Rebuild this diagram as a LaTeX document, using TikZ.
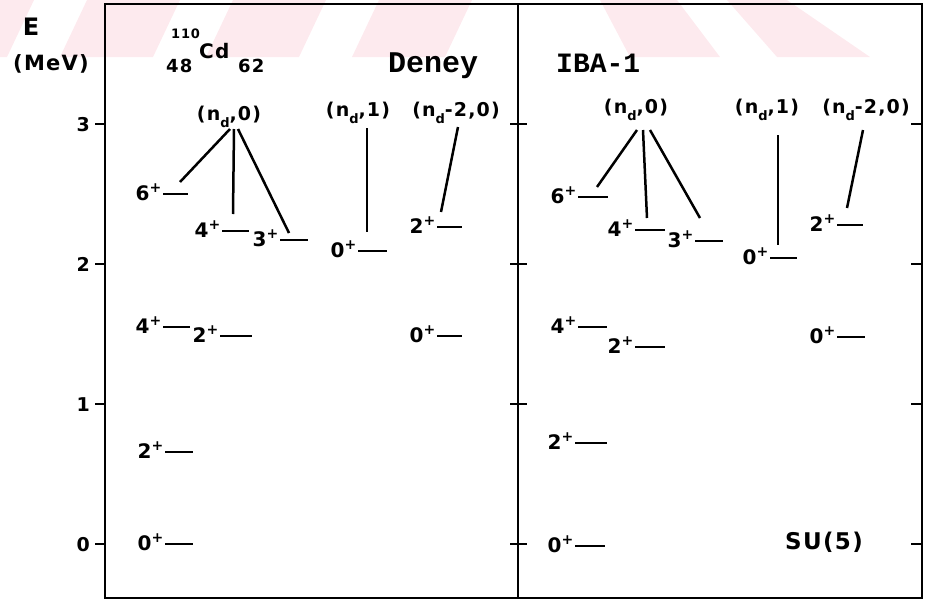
\documentclass[tikz,border=0pt]{standalone}
\usepackage{fontspec}
\newfontfamily\labfont[LetterSpace=6]{DejaVu Sans}
\newfontfamily\typfont{Liberation Mono}
\definecolor{wmpink}{RGB}{253,234,238}

% one energy level: name, spin, x-start, x-end, y
\newcommand\drawlevel[5]{%
  \draw[lvl] (#3,#5) coordinate (#1-l) -- (#4,#5) coordinate (#1-r);
  \node[spin] (#1) at (#3-1,#5+6) {#2\textsuperscript{+}};
}
% the (n_d, ...) family labels
\newcommand\ndlab[1]{(n\raisebox{-0.38em}{\fontsize{13}{13}\selectfont d}#1)}

\begin{document}
\begin{tikzpicture}[x=1pt,y=-1pt,
  lvl/.style={line width=2.8pt},
  link/.style={line width=2.5pt},
  thinlink/.style={line width=1.9pt},
  frame/.style={line width=2.6pt},
  tickmark/.style={line width=2.2pt},
  lab/.style={font=\labfont\bfseries\fontsize{19}{19}\selectfont, inner sep=0pt},
  spin/.style={lab, font=\labfont\bfseries\fontsize{20}{20}\selectfont, anchor=base east},
  typ/.style={font=\typfont\bfseries\fontsize{30}{30}\selectfont, inner sep=0pt, anchor=base west},
]
\useasboundingbox (0,0) rectangle (927,600);

% pale pink band across the top
\foreach \a/\b in {-60/34, 87/180, 233/326, 379/472}
  \fill[wmpink] (\a,0) -- (\b,0) -- (\b-27,57) -- (\a-27,57) -- cycle;
\fill[wmpink] (600,0) -- (677,0) -- (720,57) -- (630,57) -- cycle;
\fill[wmpink] (727,0) -- (787,0) -- (870,57) -- (777,57) -- cycle;

% frame and divider
\draw[frame] (105,4) rectangle (922,598);
\draw[frame] (518,4) -- (518,598);

% energy scale
\foreach \e/\y in {0/544, 1/404, 2/264, 3/124} {
  \draw[tickmark] (95,\y) -- (105,\y);
  \draw[tickmark] (510,\y) -- (527,\y);
  \draw[tickmark] (911,\y) -- (922,\y);
  \node[lab, anchor=base east] (tick\e) at (90,\y+7) {\e};
}
\node[lab, font=\labfont\bfseries\fontsize{24}{24}\selectfont] (Eax) at (31,27) {E};
\node[lab, font=\labfont\bfseries\fontsize{21}{21}\selectfont] (MeV) at (51,64) {(MeV)};

% nuclide and panel titles
\node[lab, font=\labfont\bfseries\fontsize{13}{13}\selectfont, anchor=base west] (mass) at (171,38) {110};
\node[lab, font=\labfont\bfseries\fontsize{20}{20}\selectfont, anchor=base west] (sym) at (199,58) {Cd};
\node[lab, font=\labfont\bfseries\fontsize{18}{18}\selectfont, anchor=base west] (zn) at (166,72) {48};
\node[lab, font=\labfont\bfseries\fontsize{18}{18}\selectfont, anchor=base west] (nn) at (238,72) {62};
\node[typ] (deney) at (388,72) {Deney};
\node[typ, font=\typfont\bfseries\fontsize{28}{28}\selectfont] (iba) at (556,72) {IBA-1};
\node[lab, font=\labfont\bfseries\fontsize{23}{23}\selectfont, anchor=base] (su5) at (824,549) {SU(5)};

% family labels
\node[lab, anchor=base] (ndzL) at (229,120) {\ndlab{,0}};
\node[lab, anchor=base] (ndoL) at (358,116) {\ndlab{,1}};
\node[lab, anchor=base] (ndtL) at (456,116) {\ndlab{-2,0}};
\node[lab, anchor=base] (ndzR) at (636,113) {\ndlab{,0}};
\node[lab, anchor=base] (ndoR) at (767,113) {\ndlab{,1}};
\node[lab, anchor=base] (ndtR) at (866,113) {\ndlab{-2,0}};

% experimental levels
\drawlevel{Lz}{0}{165}{193}{544}
\drawlevel{Ltwo}{2}{165}{193}{452}
\drawlevel{Lfour}{4}{163}{190}{327}
\drawlevel{Ltwob}{2}{220}{252}{336}
\drawlevel{Lsix}{6}{163}{188}{194}
\drawlevel{Lfourb}{4}{222}{249}{231}
\drawlevel{Lthree}{3}{280}{308}{240}
\drawlevel{Lzb}{0}{358}{387}{251}
\drawlevel{Ltwoc}{2}{437}{462}{227}
\drawlevel{Lzc}{0}{437}{462}{336}

% IBA-1 levels
\drawlevel{Rz}{0}{575}{605}{546}
\drawlevel{Rtwo}{2}{575}{607}{443}
\drawlevel{Rfour}{4}{578}{607}{327}
\drawlevel{Rtwob}{2}{635}{665}{347}
\drawlevel{Rsix}{6}{578}{608}{197}
\drawlevel{Rfourb}{4}{635}{665}{230}
\drawlevel{Rthree}{3}{695}{723}{241}
\drawlevel{Rzb}{0}{770}{797}{258}
\drawlevel{Rtwoc}{2}{837}{863}{225}
\drawlevel{Rzc}{0}{837}{865}{337}

% connector ends
\coordinate (aL0) at (230,129); \coordinate (eL6) at (180,182);
\coordinate (aL1) at (234,129); \coordinate (eL4) at (233,214);
\coordinate (aL2) at (238,129); \coordinate (eL3) at (289,233);
\coordinate (bL)  at (367,128); \coordinate (eL0) at (367,232);
\coordinate (cL)  at (458,127); \coordinate (eL2) at (441,212);
\coordinate (aR0) at (637,130); \coordinate (eR6) at (597,187);
\coordinate (aR1) at (643,130); \coordinate (eR4) at (647,218);
\coordinate (aR2) at (650,130); \coordinate (eR3) at (700,218);
\coordinate (bR)  at (778,135); \coordinate (eR0) at (778,245);
\coordinate (cR)  at (863,130); \coordinate (eR2) at (847,208);

\draw[link] (aL0) -- (eL6);
\draw[link] (aL1) -- (eL4);
\draw[link] (aL2) -- (eL3);
\draw[thinlink] (bL) -- (eL0);
\draw[link] (cL) -- (eL2);
\draw[link] (aR0) -- (eR6);
\draw[link] (aR1) -- (eR4);
\draw[link] (aR2) -- (eR3);
\draw[thinlink] (bR) -- (eR0);
\draw[link] (cR) -- (eR2);
\end{tikzpicture}
\end{document}
